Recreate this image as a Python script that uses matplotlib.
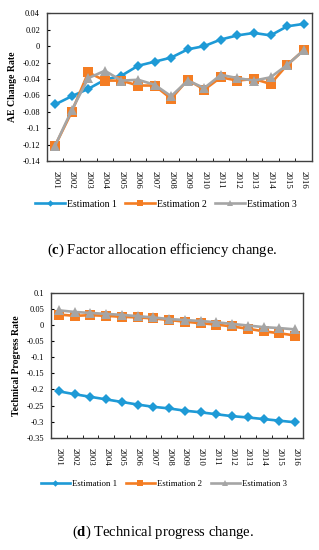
import matplotlib
matplotlib.use("Agg")
import matplotlib.pyplot as plt
from matplotlib.ticker import FixedLocator, FuncFormatter
import numpy as np

plt.rcParams['font.family'] = ['Liberation Serif', 'DejaVu Serif']
plt.rcParams['mathtext.fontset'] = 'custom'
plt.rcParams['mathtext.rm'] = 'Liberation Serif'
plt.rcParams['mathtext.bf'] = 'Liberation Serif:bold'

years = [str(y) for y in range(2001, 2017)]

# (c) factor allocation efficiency change
ae_est1 = [-0.071, -0.061, -0.052, -0.041, -0.036, -0.024, -0.019, -0.014,
           -0.004, 0.000, 0.008, 0.013, 0.016, 0.013, 0.024, 0.027]
ae_est2 = [-0.121, -0.080, -0.032, -0.042, -0.042, -0.048, -0.048, -0.064,
           -0.041, -0.053, -0.038, -0.042, -0.040, -0.046, -0.023, -0.005]
ae_est3 = [-0.121, -0.078, -0.039, -0.030, -0.042, -0.041, -0.047, -0.061,
           -0.042, -0.051, -0.035, -0.039, -0.042, -0.038, -0.023, -0.005]

# (d) technical progress change
tp_est1 = [-0.206, -0.215, -0.223, -0.231, -0.239, -0.247, -0.254, -0.259,
           -0.266, -0.271, -0.277, -0.283, -0.287, -0.292, -0.297, -0.302]
tp_est2 = [0.032, 0.028, 0.030, 0.028, 0.025, 0.023, 0.020, 0.015,
           0.010, 0.005, 0.001, -0.005, -0.012, -0.020, -0.026, -0.033]
tp_est3 = [0.045, 0.040, 0.037, 0.034, 0.031, 0.027, 0.023, 0.018,
           0.015, 0.012, 0.008, 0.003, -0.002, -0.007, -0.010, -0.014]

labels = ["Estimation 1", "Estimation 2", "Estimation 3"]
colors = ["#1E9AD6", "#F47D23", "#A5A5A5"]
markers = ["D", "s", "^"]
msizes = [5.5, 6.5, 6.5]

fig = plt.figure(figsize=(3.19, 5.5), dpi=100)


def fmt(v, pos):
    s = ("%.2f" % v).rstrip("0").rstrip(".")
    return "0" if s in ("-0", "0") else s


def draw(ax, series, yticks, ylabel):
    x = np.arange(len(years))
    for vals, lab, c, m, ms in zip(series, labels, colors, markers, msizes):
        ax.plot(x, vals, color=c, lw=1.9, marker=m, ms=ms, label=lab,
                markeredgewidth=0)
    ax.set_xlim(-0.5, len(years) - 0.5)
    ax.set_ylim(yticks[0], yticks[-1])
    ax.set_yticks(yticks)
    ax.yaxis.set_major_formatter(FuncFormatter(fmt))
    ax.set_xticks(x)
    ax.set_xticklabels(years, rotation=270, fontsize=6.3)
    ax.xaxis.set_minor_locator(FixedLocator(x[:-1] + 0.5))
    ax.tick_params(axis='x', which='major', length=0, pad=7)
    ax.tick_params(axis='x', which='minor', length=2.5, direction='in')
    ax.tick_params(axis='y', length=2.5, direction='in', labelsize=6, pad=5)
    for s in ax.spines.values():
        s.set_color("#404040")
        s.set_linewidth(1.0)
    ax.set_ylabel(ylabel, fontsize=7, fontweight='bold', labelpad=4)


ax1 = fig.add_axes([0.147, 0.707, 0.831, 0.269])
draw(ax1, [ae_est1, ae_est2, ae_est3],
     [-0.14, -0.12, -0.1, -0.08, -0.06, -0.04, -0.02, 0, 0.02, 0.04],
     "AE Change Rate")
fig.legend(*ax1.get_legend_handles_labels(), loc='center',
           bbox_to_anchor=(0.52, 0.629), ncol=3, frameon=False, fontsize=7,
           handlelength=3.1, columnspacing=0.8, handletextpad=0.25,
           markerscale=0.6)
fig.text(0.51, 0.545, r"($\mathbf{c}$) Factor allocation efficiency change.",
         ha='center', va='center', fontsize=10.5)

ax2 = fig.add_axes([0.16, 0.204, 0.79, 0.264])
draw(ax2, [tp_est1, tp_est2, tp_est3],
     [-0.35, -0.3, -0.25, -0.2, -0.15, -0.1, -0.05, 0, 0.05, 0.1],
     "Technical Progress Rate")
fig.legend(*ax2.get_legend_handles_labels(), loc='center',
           bbox_to_anchor=(0.514, 0.12), ncol=3, frameon=False, fontsize=6.3,
           handlelength=3.3, columnspacing=1.0, handletextpad=0.25,
           markerscale=0.6)
fig.text(0.51, 0.033, r"($\mathbf{d}$) Technical progress change.",
         ha='center', va='center', fontsize=10.5)

fig.savefig("out.png", dpi=100)
